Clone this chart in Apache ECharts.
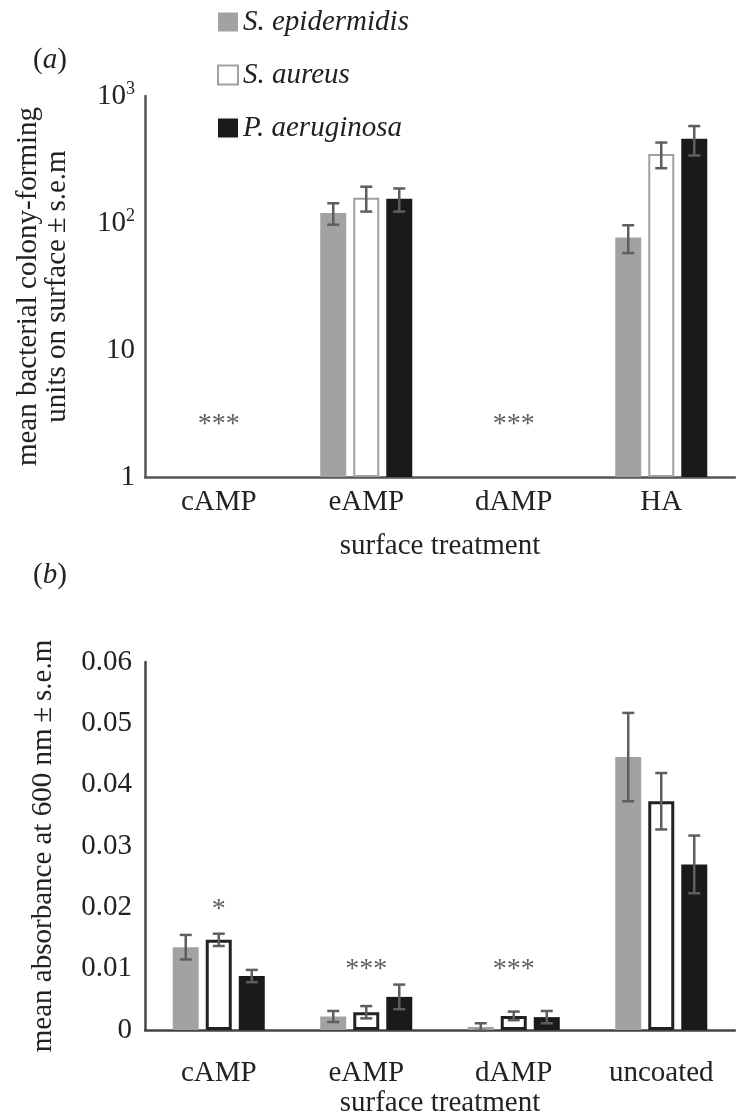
<!DOCTYPE html>
<html>
<head>
<meta charset="utf-8">
<script src="https://cdn.jsdelivr.net/npm/echarts@6/dist/echarts.min.js"></script>
<style>
html,body{margin:0;padding:0;background:#fff;}
#chart{width:736px;height:1119px;}
</style>
</head>
<body>
<div id="chart"></div>
<script>
// ---- data ----
const seriesNames = ['S. epidermidis', 'S. aureus', 'P. aeruginosa'];
const categoriesA = ['cAMP', 'eAMP', 'dAMP', 'HA'];
const categoriesB = ['cAMP', 'eAMP', 'dAMP', 'uncoated'];
const ticksA = [1, 10, 100, 1000];

// panel (a): mean CFU on surface (log scale), s.e.m
const cfuEpidermidis = [null, 120, null, 77];
const cfuEpidermidisSem = [null, 23, null, 19];
const cfuAureus = [null, 158, null, 350];
const cfuAureusSem = [null, 35, null, 80];
const cfuAeruginosa = [null, 155, null, 460];
const cfuAeruginosaSem = [null, 32, null, 120];
const sigA = ['***', '', '***', ''];
const sigAHeight = [2.6, null, 2.6, null];

// panel (b): mean absorbance at 600 nm, s.e.m
const absEpidermidis = [0.0135, 0.0022, 0.0005, 0.0445];
const absEpidermidisSem = [0.0020, 0.0009, 0.0006, 0.0072];
const absAureus = [0.0147, 0.0029, 0.0023, 0.0373];
const absAureusSem = [0.0010, 0.0010, 0.0007, 0.0046];
const absAeruginosa = [0.0088, 0.0054, 0.0021, 0.0270];
const absAeruginosaSem = [0.0010, 0.0020, 0.0010, 0.0047];
const sigB = ['*', '***', '***', ''];
const sigBHeight = [0.0196, 0.0098, 0.0098, null];

// ---- styles ----
const FONT = '"Liberation Serif", "DejaVu Serif", serif';
const FS = 29;
const GRAY = '#a2a2a2';
const BLACK = '#1a1a1a';
const ERR = '#5e5e5e';
const BAR_W = 26;
const BAR_GAP = 0.27;
const STEP = BAR_W * (1 + BAR_GAP);

function errData(vals, sem) {
  const out = [];
  vals.forEach((v, i) => { if (v != null) out.push([i, v - sem[i], v + sem[i]]); });
  return out;
}
function errSeries(name, idx, grid, vals, sem) {
  const offset = (idx - 1) * STEP;
  return {
    type: 'custom', name: name, xAxisIndex: grid, yAxisIndex: grid, z: 10,
    data: errData(vals, sem),
    encode: { x: 0, y: [1, 2] },
    renderItem: function (params, api) {
      const lo = api.coord([api.value(0), api.value(1)]);
      const hi = api.coord([api.value(0), api.value(2)]);
      const x = lo[0] + offset;
      const cap = 6;
      const st = { stroke: ERR, lineWidth: 2.5 };
      return {
        type: 'group', children: [
          { type: 'line', shape: { x1: x, y1: lo[1], x2: x, y2: hi[1] }, style: st },
          { type: 'line', shape: { x1: x - cap, y1: lo[1], x2: x + cap, y2: lo[1] }, style: st },
          { type: 'line', shape: { x1: x - cap, y1: hi[1], x2: x + cap, y2: hi[1] }, style: st }
        ]
      };
    }
  };
}
function sigSeries(grid, labels, heights) {
  const d = [];
  labels.forEach((l, i) => { if (l) d.push({ value: [i, heights[i]], lab: l }); });
  return {
    type: 'scatter', xAxisIndex: grid, yAxisIndex: grid, symbolSize: 0, silent: true,
    data: d,
    label: {
      show: true, position: 'inside', fontFamily: FONT, fontSize: 28, color: '#333',
      formatter: p => p.data.lab
    }
  };
}

const styleA = [
  { color: GRAY },
  { color: '#ffffff', borderColor: '#a0a0a0', borderWidth: 2 },
  { color: BLACK }
];
const styleB = [
  { color: GRAY },
  { color: '#ffffff', borderColor: '#222', borderWidth: 3 },
  { color: BLACK }
];
const valsA = [cfuEpidermidis, cfuAureus, cfuAeruginosa];
const semA = [cfuEpidermidisSem, cfuAureusSem, cfuAeruginosaSem];
const valsB = [absEpidermidis, absAureus, absAeruginosa];
const semB = [absEpidermidisSem, absAureusSem, absAeruginosaSem];

const series = [];
seriesNames.forEach((n, i) => {
  series.push({ type: 'bar', name: n, xAxisIndex: 0, yAxisIndex: 0, data: valsA[i],
    barWidth: BAR_W, barGap: (BAR_GAP * 100) + '%', itemStyle: styleA[i] });
});
seriesNames.forEach((n, i) => {
  series.push({ type: 'bar', name: n, xAxisIndex: 1, yAxisIndex: 1, data: valsB[i],
    barWidth: BAR_W, barGap: (BAR_GAP * 100) + '%', itemStyle: styleB[i] });
});
seriesNames.forEach((n, i) => series.push(errSeries(n + ' err', i, 0, valsA[i], semA[i])));
seriesNames.forEach((n, i) => series.push(errSeries(n + ' err', i, 1, valsB[i], semB[i])));
series.push(sigSeries(0, sigA, sigAHeight));
series.push(sigSeries(1, sigB, sigBHeight));

const txt = { fontFamily: FONT, fontSize: FS, color: '#222' };

const option = {
  animation: false,
  backgroundColor: '#fff',
  legend: {
    orient: 'vertical', left: 212, top: 2, itemWidth: 20, itemHeight: 19, itemGap: 23,
    icon: 'rect', selectedMode: false,
    textStyle: Object.assign({ fontStyle: 'italic', lineHeight: 30 }, txt),
    data: [
      { name: seriesNames[0], itemStyle: { color: GRAY } },
      { name: seriesNames[1], itemStyle: { color: '#fff', borderColor: '#a0a0a0', borderWidth: 2 } },
      { name: seriesNames[2], itemStyle: { color: BLACK } }
    ]
  },
  graphic: [
    { type: 'text', left: 33, top: 46, style: { text: '({i|a})', rich: { i: { fontStyle: 'italic', fontFamily: FONT, fontSize: FS } }, fontFamily: FONT, fontSize: FS, fill: '#222' } },
    { type: 'text', left: 33, top: 561, style: { text: '({i|b})', rich: { i: { fontStyle: 'italic', fontFamily: FONT, fontSize: FS } }, fontFamily: FONT, fontSize: FS, fill: '#222' } }
  ],
  grid: [
    { left: 145, top: 96, width: 590, height: 381 },
    { left: 145, top: 662, width: 590, height: 368 }
  ],
  xAxis: [
    { type: 'category', gridIndex: 0, data: categoriesA,
      axisLine: { lineStyle: { color: '#555', width: 2.5 } }, axisTick: { show: false },
      axisLabel: Object.assign({ margin: 11 }, txt),
      name: 'surface treatment', nameLocation: 'middle', nameGap: 55, nameTextStyle: txt },
    { type: 'category', gridIndex: 1, data: categoriesB,
      axisLine: { lineStyle: { color: '#444', width: 2.5 } }, axisTick: { show: false },
      axisLabel: Object.assign({ margin: 29 }, txt),
      name: 'surface treatment', nameLocation: 'middle', nameGap: 57, nameTextStyle: txt }
  ],
  yAxis: [
    { type: 'log', gridIndex: 0, logBase: 10, min: ticksA[0], max: ticksA[ticksA.length - 1],
      axisLine: { show: true, lineStyle: { color: '#555', width: 2.5 } }, axisTick: { show: false },
      splitLine: { show: false },
      axisLabel: Object.assign({ margin: 10,
        formatter: v => v >= 100 ? '10{s|' + Math.round(Math.log10(v)) + '}' : String(v),
        rich: { s: { fontFamily: FONT, fontSize: 18, color: '#222', verticalAlign: 'top', padding: [0, 0, 14, 0] } }
      }, txt),
      name: 'mean bacterial colony-forming\nunits on surface\u2009\u00b1\u2009s.e.m',
      nameLocation: 'middle', nameRotate: 90, nameGap: 73,
      nameTextStyle: Object.assign({ lineHeight: 29 }, txt) },
    { type: 'value', gridIndex: 1, min: 0, max: 0.06, interval: 0.01,
      axisLine: { show: true, lineStyle: { color: '#444', width: 2.5 } }, axisTick: { show: false },
      splitLine: { show: false },
      axisLabel: Object.assign({ margin: 13, formatter: v => v === 0 ? '0' : v.toFixed(2) }, txt),
      name: 'mean absorbance at 600 nm\u2009\u00b1\u2009s.e.m',
      nameLocation: 'middle', nameRotate: 90, nameGap: 87, nameTextStyle: txt }
  ],
  series: series
};

const chart = echarts.init(document.getElementById('chart'), null, { renderer: 'canvas' });
chart.setOption(option);
</script>
</body>
</html>
